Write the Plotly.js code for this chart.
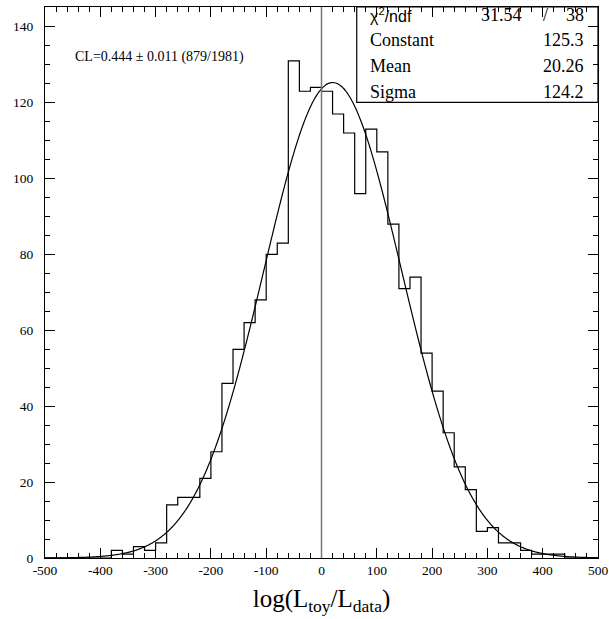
<!DOCTYPE html>
<html><head><meta charset="utf-8">
<script src="https://cdn.plot.ly/plotly-3.0.1.min.js"></script>
<style>html,body{margin:0;padding:0;background:#fff}</style>
</head><body><div id="chart" style="width:609px;height:619px"></div>
<script>
// ---- data ----
const binLowEdges = [-500,-480,-460,-440,-420,-400,-380,-360,-340,-320,-300,-280,-260,-240,-220,-200,-180,-160,-140,-120,
  -100,-80,-60,-40,-20,0,20,40,60,80,100,120,140,160,180,200,220,240,260,280,300,320,340,360,380,400,420,440,460,480];
const binWidth = 20;
const counts = [0,0,0,0,0,0,2,1,3,2,4,14,16,16,21,28,46,55,62,68,
  80,83,131,123,124,123,117,112,96,113,107,88,71,74,54,44,33,24,18,7,8,4,4,2,1,1,1,0,0,0];
const fitConstant = 125.3;
const fitMean = 20.26;
const fitSigma = 124.2;
const chi2 = 31.54;
const ndf = 38;
const clText = 'CL=0.444 \u00b1 0.011 (879/1981)';
const xTickVals = [-500,-400,-300,-200,-100,0,100,200,300,400,500];
const xTickLabels = ['-500','-400','-300','-200','-100','0','100','200','300','400','500'];
const yTickVals = [0,20,40,60,80,100,120,140];
const yTickLabels = ['0','20','40','60','80','100','120','140'];
const statLabels = ['Constant','Mean','Sigma'];
const statValues = ['125.3','20.26','124.2'];

// ---- build traces ----
const stepX = [], stepY = [];
binLowEdges.forEach((x, i) => { stepX.push(x); stepY.push(counts[i]); });
stepX.push(binLowEdges[binLowEdges.length - 1] + binWidth);
stepY.push(counts[counts.length - 1]);

// fit curve from the fitted Gaussian parameters shown in the stats box
const fitX = [], fitY = [];
for (let x = -500; x <= 500; x += 2) {
  fitX.push(x);
  fitY.push(fitConstant * Math.exp(-0.5 * Math.pow((x - fitMean) / fitSigma, 2)));
}

const serif = 'Liberation Serif, Times New Roman, serif';

const traces = [
  {x: stepX, y: stepY, type: 'scatter', mode: 'lines', line: {shape: 'hv', color: '#000', width: 1.2}, hoverinfo: 'skip'},
  {x: fitX, y: fitY, type: 'scatter', mode: 'lines', line: {color: '#000', width: 1.2, shape: 'spline'}, hoverinfo: 'skip'}
];

const rowY = [0.9396, 0.8929, 0.8463];
const annotations = [
  {text: clText, xref: 'paper', yref: 'paper', x: 0.0512, y: 0.9098, xanchor: 'left', yanchor: 'middle', showarrow: false,
   font: {family: serif, size: 14, color: '#000'}},
  {text: '\u03c7<sup>2</sup>/ndf', xref: 'paper', yref: 'paper', x: 0.5846, y: 0.9862, xanchor: 'left', yanchor: 'middle', showarrow: false,
   font: {family: 'Liberation Sans, Arial, sans-serif', size: 16, color: '#000'}},
  {text: String(chi2), xref: 'paper', yref: 'paper', x: 0.8658, y: 0.9862, xanchor: 'right', yanchor: 'middle', showarrow: false,
   font: {family: serif, size: 18, color: '#000'}},
  {text: '/', xref: 'paper', yref: 'paper', x: 0.9042, y: 0.9862, xanchor: 'center', yanchor: 'middle', showarrow: false,
   font: {family: serif, size: 18, color: '#000'}},
  {text: String(ndf), xref: 'paper', yref: 'paper', x: 0.9783, y: 0.9862, xanchor: 'right', yanchor: 'middle', showarrow: false,
   font: {family: serif, size: 18, color: '#000'}}
];
statLabels.forEach((lab, i) => {
  annotations.push({text: lab, xref: 'paper', yref: 'paper', x: 0.5846, y: rowY[i], xanchor: 'left', yanchor: 'middle', showarrow: false,
    font: {family: serif, size: 18, color: '#000'}});
  annotations.push({text: statValues[i], xref: 'paper', yref: 'paper', x: 0.9783, y: rowY[i], xanchor: 'right', yanchor: 'middle', showarrow: false,
    font: {family: serif, size: 18, color: '#000'}});
});

const layout = {
  width: 609, height: 619,
  margin: {l: 45, r: 11, t: 7, b: 61, pad: 0},
  paper_bgcolor: '#fff', plot_bgcolor: '#fff',
  showlegend: false,
  xaxis: {
    range: [-500, 500], tickmode: 'array', tickvals: xTickVals, ticktext: xTickLabels,
    ticks: 'inside', ticklen: 10, tickwidth: 1, tickcolor: '#000',
    minor: {dtick: 20, ticks: 'inside', ticklen: 5, tickwidth: 1, tickcolor: '#000', showgrid: false},
    showline: true, linecolor: '#000', linewidth: 1, mirror: 'allticks',
    showgrid: false, zeroline: false,
    tickfont: {family: serif, size: 13.5, color: '#000'},
    title: {text: 'log(L<sub>toy</sub>/L<sub>data</sub>)', font: {family: serif, size: 25, color: '#000'}, standoff: 12}
  },
  yaxis: {
    range: [0, 145.2], tickmode: 'array', tickvals: yTickVals, ticktext: yTickLabels,
    ticks: 'inside', ticklen: 10, tickwidth: 1, tickcolor: '#000',
    minor: {dtick: 5, ticks: 'inside', ticklen: 5, tickwidth: 1, tickcolor: '#000', showgrid: false},
    showline: true, linecolor: '#000', linewidth: 1, mirror: 'allticks',
    showgrid: false, zeroline: false,
    tickfont: {family: serif, size: 13.5, color: '#000'},
    ticklabelstandoff: 8
  },
  shapes: [
    {type: 'line', xref: 'x', yref: 'paper', x0: 0, x1: 0, y0: 0, y1: 1, line: {color: '#777', width: 1.5}},
    {type: 'rect', xref: 'paper', yref: 'paper', x0: 0.5637, x1: 1, y0: 0.827, y1: 1, line: {color: '#000', width: 1.2}, fillcolor: 'rgba(0,0,0,0)'}
  ],
  annotations: annotations
};

Plotly.newPlot('chart', traces, layout, {staticPlot: true, displayModeBar: false});
</script>
</body></html>
